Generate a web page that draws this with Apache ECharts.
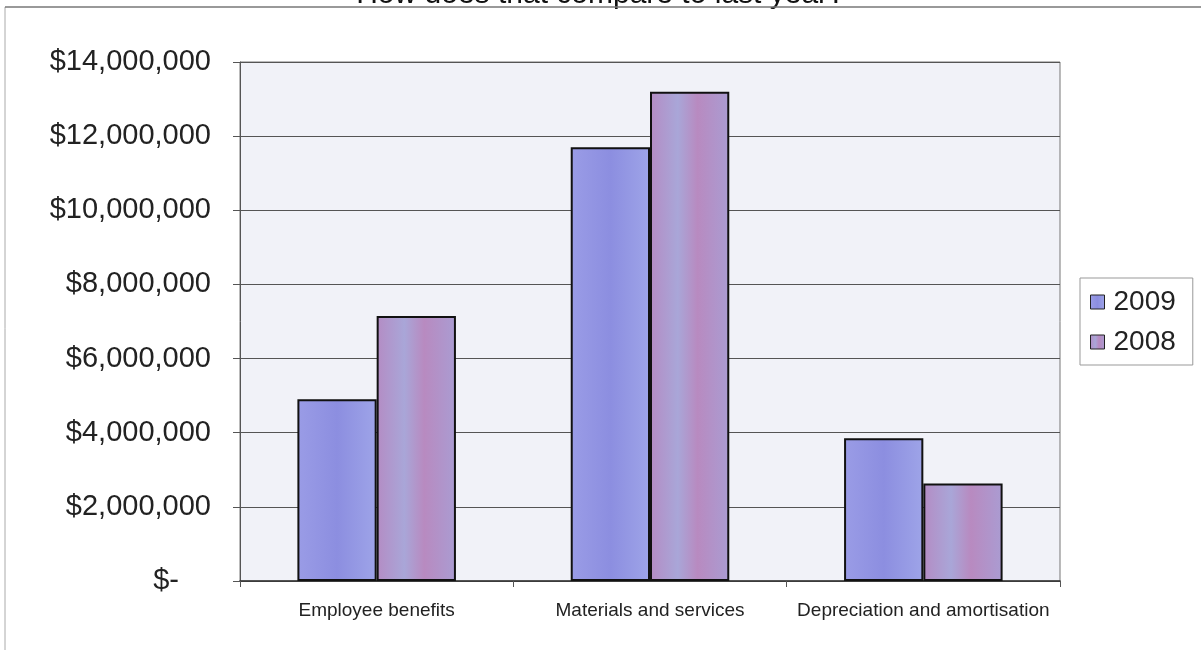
<!DOCTYPE html>
<html>
<head>
<meta charset="utf-8">
<script src="https://cdn.jsdelivr.net/npm/echarts@6/dist/echarts.min.js"></script>
<style>
  body { margin: 0; background: #fff; }
  #main { width: 1201px; height: 650px; }
</style>
</head>
<body>
<div id="main"></div>
<script>
// data
var categories = ['Employee benefits', 'Materials and services', 'Depreciation and amortisation'];
var values2009 = [4900000, 11700000, 3850000];
var values2008 = [7150000, 13200000, 2630000];
var seriesNames = ['2009', '2008'];

var myChart = echarts.init(document.getElementById('main'));

function money(v) {
  if (v === 0) return '{z|$-}';
  return '$' + v.toLocaleString('en-US');
}

myChart.setOption({
  backgroundColor: '#ffffff',
  textStyle: { fontFamily: 'Liberation Sans, Arial, sans-serif' },
  title: {
    text: 'How does that compare to last year?',
    left: 'center',
    top: -25,
    textStyle: { fontSize: 30, fontWeight: 'normal', color: '#111' }
  },
  graphic: [
    // scanned page frame: top and left edges
    { type: 'line', z: 100, shape: { x1: 5, y1: 7, x2: 1201, y2: 7 }, style: { stroke: '#777', lineWidth: 1.5 } },
    { type: 'line', shape: { x1: 5, y1: 7, x2: 5, y2: 650 }, style: { stroke: '#aaa', lineWidth: 1 } }
  ],
  legend: {
    orient: 'vertical',
    left: 1080,
    top: 278,
    padding: [10, 17, 9, 10],
    itemGap: 12,
    itemWidth: 14,
    itemHeight: 14,
    icon: 'rect',
    borderColor: '#999',
    borderWidth: 1,
    itemStyle: { borderColor: '#222', borderWidth: 1 },
    textStyle: { fontSize: 28, color: '#222', padding: [0, 0, 0, 4] },
    data: seriesNames
  },
  grid: {
    left: 240,
    right: 141,
    top: 62,
    bottom: 69,
    show: true,
    backgroundColor: '#f1f2f8',
    borderColor: '#777',
    borderWidth: 1
  },
  xAxis: {
    type: 'category',
    data: categories,
    axisLine: { lineStyle: { color: '#333', width: 1.5 } },
    axisTick: { show: true, length: 6, lineStyle: { color: '#555' } },
    axisLabel: { fontSize: 19, color: '#222', margin: 20, interval: 0 }
  },
  yAxis: {
    type: 'value',
    min: 0,
    max: 14000000,
    interval: 2000000,
    axisLine: { show: true, lineStyle: { color: '#555' } },
    axisTick: { show: true, length: 7, lineStyle: { color: '#555' } },
    splitLine: { lineStyle: { color: '#555', width: 1 } },
    axisLabel: {
      fontSize: 29,
      color: '#222',
      margin: 29,
      formatter: money,
      rich: { z: { fontSize: 29, color: '#222', padding: [0, 32, 0, 0] } }
    }
  },
  series: [
    {
      name: seriesNames[0],
      type: 'bar',
      data: values2009,
      barGap: '0%',
      barCategoryGap: '42%',
      itemStyle: {
        color: new echarts.graphic.LinearGradient(0, 0, 1, 0, [
          { offset: 0, color: '#9a9ce6' },
          { offset: 0.5, color: '#8c8ee0' },
          { offset: 1, color: '#9ea4e8' }
        ]),
        borderColor: '#111',
        borderWidth: 2
      }
    },
    {
      name: seriesNames[1],
      type: 'bar',
      data: values2008,
      itemStyle: {
        color: new echarts.graphic.LinearGradient(0, 0, 1, 0, [
          { offset: 0, color: '#b48cc4' },
          { offset: 0.35, color: '#a9a6d8' },
          { offset: 0.6, color: '#b88ac0' },
          { offset: 1, color: '#aa9cd2' }
        ]),
        borderColor: '#111',
        borderWidth: 2
      }
    }
  ]
});
</script>
</body>
</html>
